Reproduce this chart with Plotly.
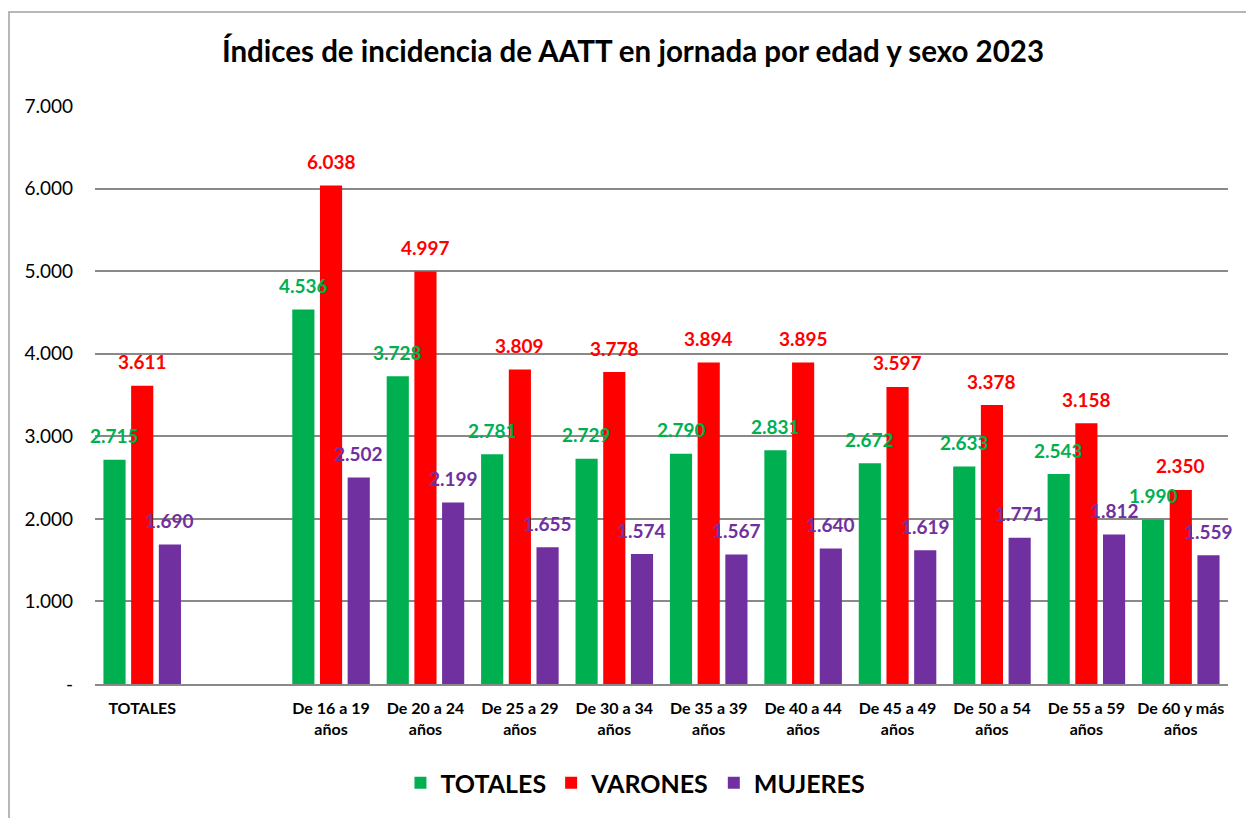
import plotly.graph_objects as go

categories = ["TOTALES", " ", "De 16 a 19<br>años", "De 20 a 24<br>años", "De 25 a 29<br>años",
              "De 30 a 34<br>años", "De 35 a 39<br>años", "De 40 a 44<br>años", "De 45 a 49<br>años",
              "De 50 a 54<br>años", "De 55 a 59<br>años", "De 60 y más<br>años"]
totales = [2715, None, 4536, 3728, 2781, 2729, 2790, 2831, 2672, 2633, 2543, 1990]
varones = [3611, None, 6038, 4997, 3809, 3778, 3894, 3895, 3597, 3378, 3158, 2350]
mujeres = [1690, None, 2502, 2199, 1655, 1574, 1567, 1640, 1619, 1771, 1812, 1559]
series_names = ["TOTALES", "VARONES", "MUJERES"]
colors = ["#00B050", "#FF0000", "#7030A0"]
tick_vals = [0, 1000, 2000, 3000, 4000, 5000, 6000, 7000]
tick_text = ["-", "1.000", "2.000", "3.000", "4.000", "5.000", "6.000", "7.000"]

FONT = "Lato"
fig = go.Figure()
all_series = [totales, varones, mujeres]
for name, vals, col in zip(series_names, all_series, colors):
    fig.add_trace(go.Bar(x=categories, y=vals, name=name, marker_color=col,
                         marker_line_width=0))

shifts = [-27.7, 0, 27.7]
for vals, col, sh in zip(all_series, colors, shifts):
    for c, v in zip(categories, vals):
        if v is None:
            continue
        fig.add_annotation(x=c, y=v, text=f"{v:,}".replace(",", "."), showarrow=False,
                           xshift=sh, yshift=24, yanchor="middle",
                           font=dict(family=FONT, size=19, color=col, weight="bold"))

fig.update_layout(
    width=1246, height=818,
    margin=dict(l=95, r=18, t=106, b=134, autoexpand=False),
    paper_bgcolor="white", plot_bgcolor="white",
    barmode="group", bargap=0.12, bargroupgap=0.2,
    title=dict(text="<b>Índices de incidencia de AATT en jornada por edad y sexo 2023</b>",
               x=0.508, xanchor="center", y=1 - 52 / 818, yanchor="middle",
               font=dict(family=FONT, size=29.5, color="black")),
    legend=dict(orientation="h", xref="container", yref="container", x=0.51, y=1 - 783 / 818,
                xanchor="center", yanchor="middle",
                font=dict(family=FONT, size=25, color="black", weight="bold")),
    xaxis=dict(type="category", range=[-0.5, len(categories) - 0.5], showgrid=False,
               showline=True, linecolor="#898989", linewidth=2,
               tickfont=dict(family=FONT, size=16, color="black", weight="bold"), ticks="",
               ticklabelstandoff=9, automargin=False),
    yaxis=dict(range=[0, 7000], tickvals=tick_vals, ticktext=tick_text, showgrid=True,
               gridcolor="#898989", gridwidth=2, zeroline=False, showline=False,
               tickfont=dict(family=FONT, size=19, color="black"), ticklabelstandoff=21,
               automargin=False),
    shapes=[dict(type="rect", xref="paper", yref="paper", x0=-0.0759, x1=1.05, y0=-0.3, y1=1.1626,
                 line=dict(color="#A0A0A0", width=1.5), layer="below")],
)
fig.write_html("out.html", config={"displayModeBar": False},
               post_script="document.body.style.margin='0';document.body.style.padding='0';")
